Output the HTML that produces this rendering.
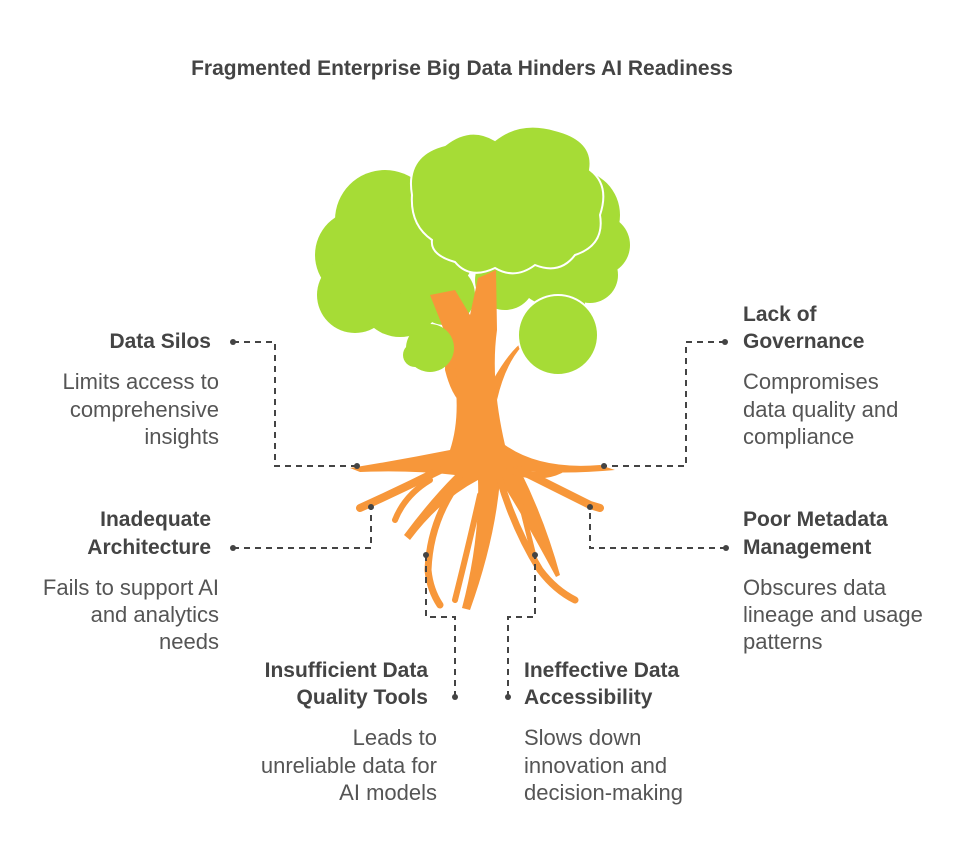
<!DOCTYPE html>
<html><head><meta charset="utf-8"><style>
html,body{margin:0;padding:0;background:#fff;}
svg{display:block;}
text{font-family:"Liberation Sans",Arial,sans-serif;fill:#444;}
.h{font-weight:bold;font-size:21px;}
.b{font-size:22px;fill:#555;}
.d{stroke:#444;stroke-width:2;stroke-dasharray:6,5;fill:none;}
</style></head><body>
<svg width="977" height="866" viewBox="0 0 977 866">
<text x="462" y="75" text-anchor="middle" class="h" style="font-size:21px">Fragmented Enterprise Big Data Hinders AI Readiness</text>

<!-- canopy back -->
<g fill="#a6dc36">
<circle cx="385" cy="220" r="50"/><circle cx="360" cy="255" r="45"/><circle cx="355" cy="295" r="38"/>
<circle cx="400" cy="295" r="42"/><circle cx="425" cy="250" r="50"/><circle cx="445" cy="295" r="30"/>
<circle cx="575" cy="215" r="45"/><circle cx="600" cy="245" r="30"/><circle cx="590" cy="275" r="28"/>
<circle cx="550" cy="270" r="35"/><circle cx="505" cy="280" r="30"/><circle cx="560" cy="305" r="25"/>
</g>
<!-- trunk -->
<g fill="#f7973a">
<path d="M430 295 L455 290 L470 315 L478 278 L496 270 L497 330 Q490 380 505 445 Q540 470 600 465 L615 470 Q560 475 520 470 Q545 520 560 575 L556 577 Q520 510 500 480 Q495 540 470 610 L462 608 Q480 540 478 480 Q440 500 410 540 L404 535 Q430 500 455 475 Q410 470 360 472 L350 468 Q400 460 450 450 Q460 420 455 380 Q450 345 440 320 Z"/>
<path d="M455 360 Q445 345 445 370 Q450 390 458 400 Z"/>
<path d="M493 380 Q510 350 525 340 L522 346 Q505 365 497 400 Z"/>
</g>
<g stroke="#f7973a" fill="none" stroke-linecap="round">
<path d="M440 470 Q400 490 360 508" stroke-width="8"/>
<path d="M460 480 Q430 520 428 570 Q430 590 440 605" stroke-width="7"/>
<path d="M500 480 Q515 530 540 570 Q555 590 575 600" stroke-width="7"/>
<path d="M520 470 Q560 490 590 505 L600 508" stroke-width="8"/>
<path d="M510 470 Q540 480 560 470" stroke-width="7"/>
<path d="M430 480 Q405 495 395 520" stroke-width="6"/>
<path d="M480 495 Q470 540 455 600" stroke-width="6"/>
<path d="M520 500 Q530 540 535 560" stroke-width="5"/>
</g>
<!-- front top cloud -->
<g fill="#a6dc36" stroke="#fff" stroke-width="2">
<path d="M412 195 Q405 155 445 145 Q470 125 495 140 Q520 120 555 130 Q595 140 590 170 Q610 185 600 215 Q605 245 575 255 Q560 275 535 265 Q515 280 495 268 Q470 280 455 262 Q430 255 432 240 Q410 225 412 195 Z"/>
<circle cx="558" cy="335" r="40"/>
</g>
<g fill="#a6dc36"><circle cx="430" cy="348" r="24"/><circle cx="415" cy="355" r="12"/></g>

<!-- connectors -->
<g class="d">
<path d="M233 342 H275 V466 H357"/>
<path d="M725 342 H686 V466 H604"/>
<path d="M233 548 H371 V507"/>
<path d="M726 548 H590 V507"/>
<path d="M455 697 V617 H426 V555"/>
<path d="M508 697 V617 H535 V555"/>
</g>
<g fill="#444">
<circle cx="233" cy="342" r="3"/><circle cx="357" cy="466" r="3"/>
<circle cx="725" cy="342" r="3"/><circle cx="604" cy="466" r="3"/>
<circle cx="233" cy="548" r="3"/><circle cx="371" cy="507" r="3"/>
<circle cx="726" cy="548" r="3"/><circle cx="590" cy="507" r="3"/>
<circle cx="455" cy="697" r="3"/><circle cx="426" cy="555" r="3"/>
<circle cx="508" cy="697" r="3"/><circle cx="535" cy="555" r="3"/>
</g>

<g text-anchor="end">
<text x="211" y="348" class="h">Data Silos</text>
<text x="219" y="389" class="b">Limits access to</text>
<text x="219" y="417" class="b">comprehensive</text>
<text x="219" y="444" class="b">insights</text>
<text x="211" y="526" class="h">Inadequate</text>
<text x="211" y="554" class="h">Architecture</text>
<text x="219" y="595" class="b">Fails to support AI</text>
<text x="219" y="622" class="b">and analytics</text>
<text x="219" y="649" class="b">needs</text>
<text x="428" y="677" class="h">Insufficient Data</text>
<text x="428" y="704" class="h">Quality Tools</text>
<text x="437" y="745" class="b">Leads to</text>
<text x="437" y="773" class="b">unreliable data for</text>
<text x="437" y="800" class="b">AI models</text>
</g>
<g>
<text x="743" y="321" class="h">Lack of</text>
<text x="743" y="348" class="h">Governance</text>
<text x="743" y="389" class="b">Compromises</text>
<text x="743" y="417" class="b">data quality and</text>
<text x="743" y="444" class="b">compliance</text>
<text x="743" y="526" class="h">Poor Metadata</text>
<text x="743" y="554" class="h">Management</text>
<text x="743" y="595" class="b">Obscures data</text>
<text x="743" y="622" class="b">lineage and usage</text>
<text x="743" y="649" class="b">patterns</text>
<text x="524" y="677" class="h">Ineffective Data</text>
<text x="524" y="704" class="h">Accessibility</text>
<text x="524" y="745" class="b">Slows down</text>
<text x="524" y="773" class="b">innovation and</text>
<text x="524" y="800" class="b">decision-making</text>
</g>
</svg>
</body></html>
